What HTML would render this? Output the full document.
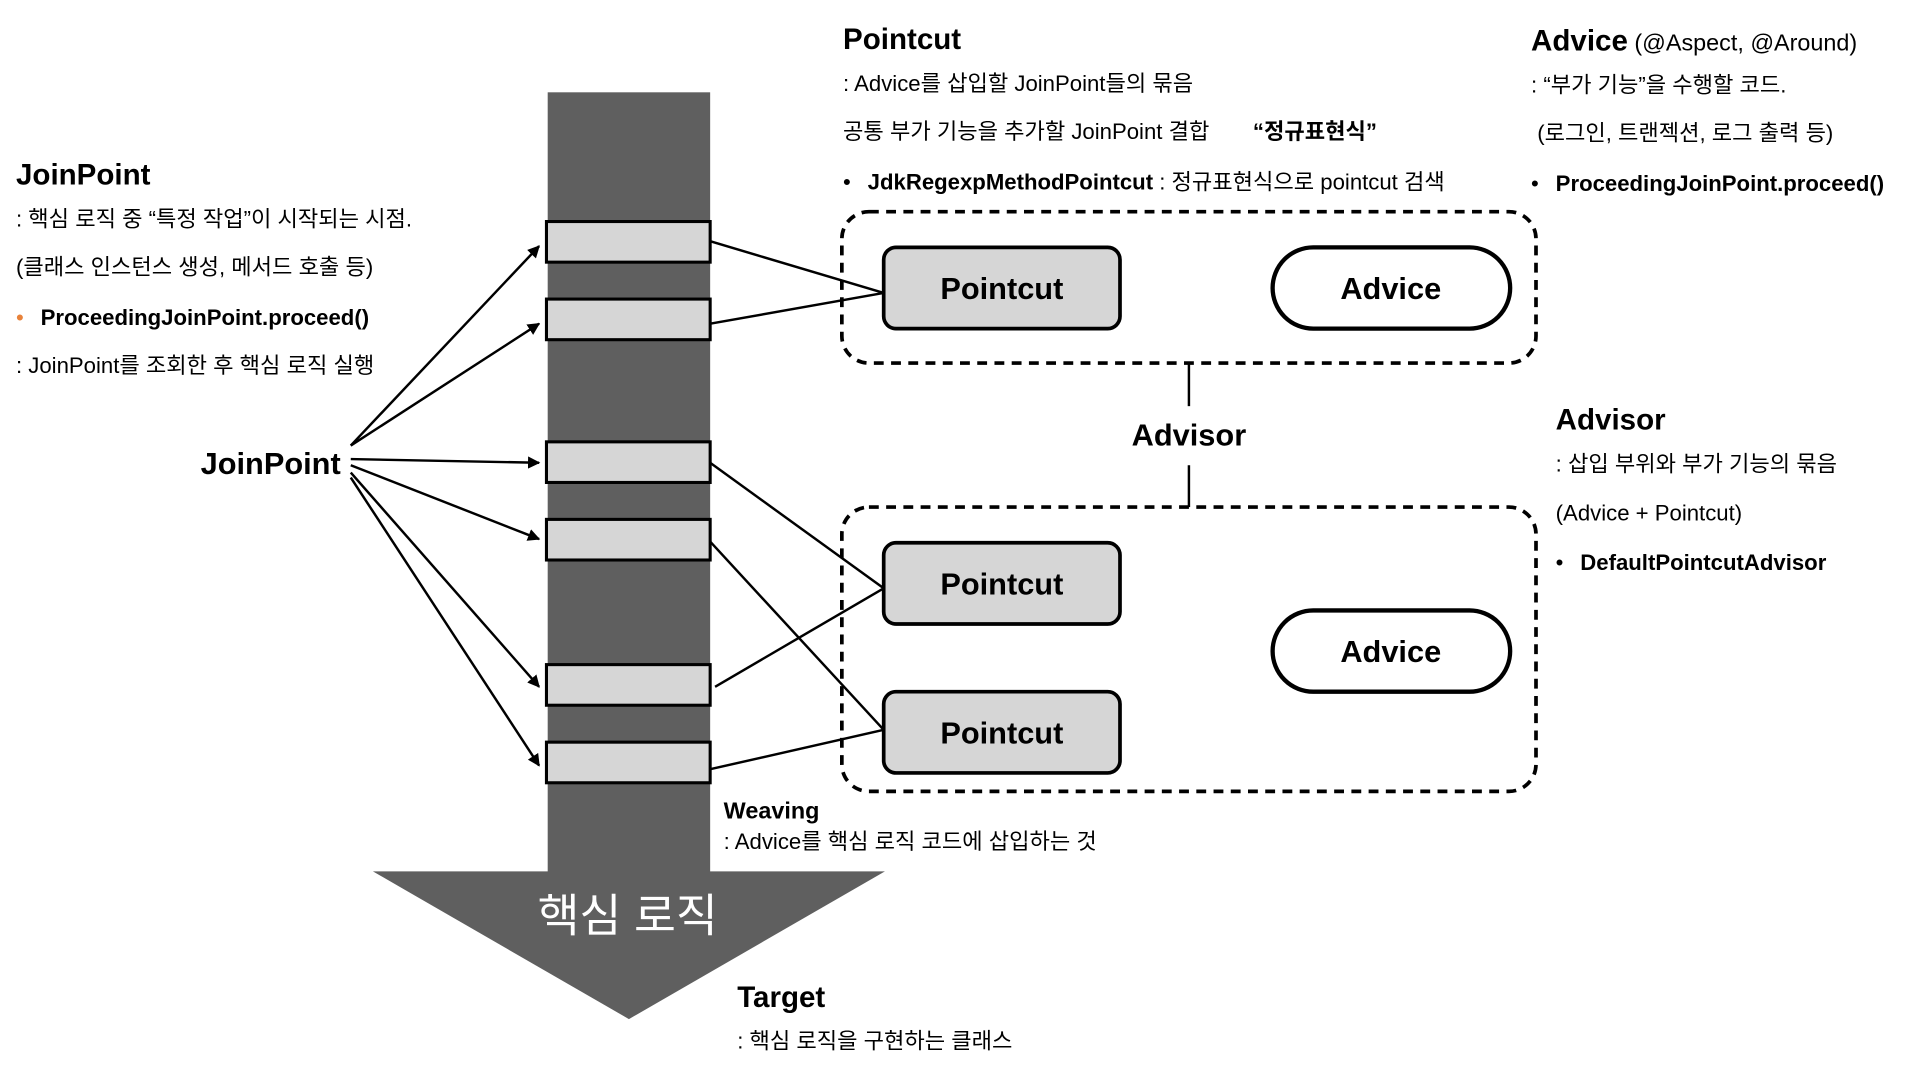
<!DOCTYPE html>
<html><head><meta charset="utf-8"><style>
html,body{margin:0;padding:0;background:#fff;width:1920px;height:1080px;overflow:hidden}
svg{display:block}
text{font-family:"Liberation Sans","Noto Sans CJK KR",sans-serif;fill:#000}
.b{font-weight:bold}
</style></head><body>
<svg width="1920" height="1080" viewBox="0 0 1560 877.5" preserveAspectRatio="none" xmlns="http://www.w3.org/2000/svg">
<defs><marker id="ah" markerWidth="10" markerHeight="10" refX="9" refY="5" orient="auto" markerUnits="userSpaceOnUse"><path d="M0,0 L10,5 L0,10 z" fill="#000"/></marker></defs>
<rect x="445" y="75" width="132" height="634" fill="#5f5f5f"/>
<polygon points="303,708 719,708 511,828" fill="#5f5f5f"/>
<text x="510" y="757" font-size="37" text-anchor="middle" style="fill:#fff">핵심 로직</text>
<g fill="#d6d6d6" stroke="#000" stroke-width="2.5">
<rect x="444" y="180" width="133" height="33"/><rect x="444" y="243" width="133" height="33"/>
<rect x="444" y="359" width="133" height="33"/><rect x="444" y="422" width="133" height="33"/>
<rect x="444" y="540" width="133" height="33"/><rect x="444" y="603" width="133" height="33"/>
</g>
<g stroke="#000" stroke-width="2" marker-end="url(#ah)">
<line x1="285" y1="362" x2="438" y2="200"/><line x1="285" y1="362" x2="438" y2="263"/>
<line x1="285" y1="373" x2="438" y2="376"/><line x1="285" y1="378" x2="438" y2="438"/>
<line x1="285" y1="384" x2="438" y2="558"/><line x1="285" y1="388" x2="438" y2="622"/>
</g>
<g stroke="#000" stroke-width="2">
<line x1="577" y1="196" x2="718" y2="238"/><line x1="577" y1="263" x2="718" y2="238"/>
<line x1="577" y1="376" x2="718" y2="478"/><line x1="581" y1="558" x2="718" y2="478"/>
<line x1="577" y1="440" x2="718" y2="593"/><line x1="577" y1="625" x2="718" y2="593"/>
<line x1="966" y1="295" x2="966" y2="330"/><line x1="966" y1="378" x2="966" y2="412"/>
</g>
<g fill="none" stroke="#000" stroke-width="3" stroke-dasharray="8,6">
<rect x="684" y="172" width="564" height="123" rx="22"/>
<rect x="684" y="412" width="564" height="231" rx="22"/>
</g>
<g fill="#d6d6d6" stroke="#000" stroke-width="3">
<rect x="718" y="201" width="192" height="66" rx="10"/>
<rect x="718" y="441" width="192" height="66" rx="10"/>
<rect x="718" y="562" width="192" height="66" rx="10"/>
</g>
<g fill="#fff" stroke="#000" stroke-width="3.5">
<rect x="1034" y="201" width="193" height="66" rx="33"/>
<rect x="1034" y="496" width="193" height="66" rx="33"/>
</g>
<g font-size="25" text-anchor="middle" style="font-weight:bold">
<text x="814" y="243">Pointcut</text><text x="814" y="483">Pointcut</text><text x="814" y="604">Pointcut</text>
<text x="1130" y="243">Advice</text><text x="1130" y="538">Advice</text>
<text x="966" y="362">Advisor</text>
</g>
<text x="163" y="385" font-size="25" style="font-weight:bold">JoinPoint</text>
<text x="13" y="150" font-size="24" class="b">JoinPoint</text>
<g font-size="18">
<text x="13" y="184">: 핵심 로직 중 “특정 작업”이 시작되는 시점.</text>
<text x="13" y="223">(클래스 인스턴스 생성, 메서드 호출 등)</text>
<text x="13" y="264" style="fill:#e8823a">•</text><text x="33" y="264" class="b">ProceedingJoinPoint.proceed()</text>
<text x="13" y="303">: JoinPoint를 조회한 후 핵심 로직 실행</text>
</g>
<text x="685" y="40" font-size="24" class="b">Pointcut</text>
<g font-size="18">
<text x="685" y="74">: Advice를 삽입할 JoinPoint들의 묶음</text>
<text x="685" y="113">공통 부가 기능을 추가할 JoinPoint 결합</text><text x="1018" y="113" class="b">“정규표현식”</text>
<text x="685" y="154">•</text><text x="705" y="154"><tspan class="b">JdkRegexpMethodPointcut</tspan> : 정규표현식으로 pointcut 검색</text>
</g>
<text x="1244" y="41"><tspan font-size="24" class="b">Advice</tspan><tspan font-size="19"> (@Aspect, @Around)</tspan></text>
<g font-size="18">
<text x="1244" y="75">: “부가 기능”을 수행할 코드.</text>
<text x="1249" y="114">(로그인, 트랜젝션, 로그 출력 등)</text>
<text x="1244" y="155">•</text><text x="1264" y="155" class="b">ProceedingJoinPoint.proceed()</text>
</g>
<text x="1264" y="349" font-size="24" class="b">Advisor</text>
<g font-size="18">
<text x="1264" y="383">: 삽입 부위와 부가 기능의 묶음</text>
<text x="1264" y="423">(Advice + Pointcut)</text>
<text x="1264" y="463">•</text><text x="1284" y="463" class="b">DefaultPointcutAdvisor</text>
</g>
<text x="588" y="665" font-size="19" class="b">Weaving</text>
<text x="588" y="690" font-size="18">: Advice를 핵심 로직 코드에 삽입하는 것</text>
<text x="599" y="818" font-size="24" class="b">Target</text>
<text x="599" y="852" font-size="18">: 핵심 로직을 구현하는 클래스</text>
</svg>
</body></html>
